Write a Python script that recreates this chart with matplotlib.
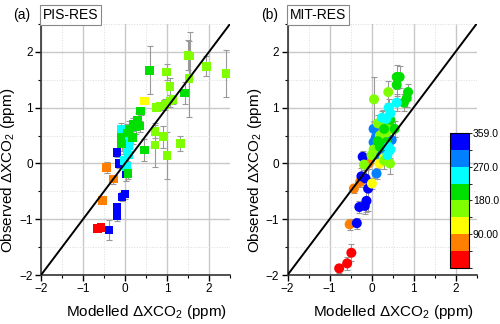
import numpy as np
import matplotlib
matplotlib.use("Agg")
import matplotlib.pyplot as plt
from matplotlib.colors import ListedColormap, BoundaryNorm
from matplotlib.ticker import MultipleLocator

plt.rcParams['font.family'] = ['Liberation Sans', 'DejaVu Sans']
plt.rcParams['mathtext.fontset'] = 'custom'
plt.rcParams['mathtext.rm'] = 'Liberation Sans'
plt.rcParams['mathtext.it'] = 'Liberation Sans'

# wind direction colour classes (deg)
dir_bounds = [0, 45, 90, 135, 180, 225, 270, 315, 359]
dir_colors = ['#ff0000', '#ff8000', '#ffff00', '#80ff00', '#00e000', '#00ffff', '#0080ff', '#0000ff']
cbar_ticks = [90, 180, 270, 359]
cbar_labels = ['90.00', '180.0', '270.0', '359.0']

# panel (a) PIS-RES
a_x = [-0.65, -0.57,
       -0.38, -0.19, -0.19, -0.07, 0.0, -0.19, -0.14, 0.02,
       -0.54, -0.28, -0.44, 0.03,
       -0.09, 0.05, 0.08, 0.10, -0.02, 0.04, 0.12,
       -0.10, -0.08, 0.18, 0.10, 0.20, 0.30, 0.35, 0.37, 0.46, 0.59, 0.07, 1.42, 0.25, 0.05,
       0.46,
       0.71, 0.71, 0.91, 1.00, 1.32, 0.75, 0.83, 0.95, 1.07, 1.14, 0.99, 1.07, 1.52, 1.50, 1.55, 1.94, 2.40]
a_y = [-1.17, -1.15,
       -1.19, -0.93, -0.78, -0.60, -0.55, 0.20, 0.00, -0.19,
       -0.66, -0.28, -0.07, 0.33,
       0.62, 0.25, 0.15, 0.32, 0.05, -0.05, 0.40,
       0.47, 0.35, 0.47, 0.62, 0.70, 0.78, 0.67, 0.94, 0.24, 1.67, -0.18, 1.26, 0.65, 0.55,
       1.12,
       0.33, 0.57, 0.48, 0.14, 0.36, 1.00, 1.03, 1.06, 1.12, 1.15, 1.64, 1.38, 1.52, 1.94, 1.93, 1.74, 1.61]
a_err = [0.03, 0.03,
         0.18, 0.10, 0.08, 0.08, 0.08, 0.08, 0.08, 0.12,
         0.05, 0.08, 0.10, 0.10,
         0.10, 0.15, 0.12, 0.10, 0.12, 0.10, 0.10,
         0.10, 0.12, 0.12, 0.15, 0.12, 0.12, 0.10, 0.08, 0.20, 0.43, 0.10, 0.20, 0.12, 0.15,
         0.05,
         0.40, 0.12, 0.20, 0.42, 0.14, 0.05, 0.08, 0.10, 0.10, 0.08, 0.15, 0.15, 0.68, 0.27, 0.42, 0.18, 0.42]
a_dir = [20] * 2 + [340] * 8 + [70] * 4 + [250] * 7 + [200] * 14 + [110] + [160] * 17

# panel (b) MIT-RES
b_x = [-0.77, -0.58, -0.48,
       -0.52, -0.42, -0.27, -0.07,
       -0.35, -0.29, -0.16, -0.12, -0.08, -0.24, -0.14, -0.21,
       0.12, 0.05, 0.05, 0.10, 0.48, 0.30, 0.15,
       0.01, 0.19, 0.30,
       -0.18, 0.44, 0.06, 0.40, 0.05, 0.15, 0.20, 0.25, 0.35, 0.28, 0.30, 0.00, 0.40,
       0.60, 0.67, 0.60, 0.87, 0.77, 0.84, 0.20, 0.35, 0.45, 0.55, 0.30, 0.15,
       0.60, 0.41, 0.35, 0.45, 0.40, 0.45, 0.38, 0.25]
b_y = [-1.88, -1.79, -1.60,
       -1.09, -0.45, -0.33, 0.00,
       -1.07, -0.78, -0.76, -0.67, -0.45, -0.23, -0.27, 0.12,
       -0.18, 0.38, 0.62, 0.46, 0.42, 0.20, 0.15,
       -0.36, 0.00, 0.10,
       -0.02, 0.00, 1.15, 1.28, 0.25, 0.72, 0.50, 0.35, 0.55, 0.80, 0.05, 0.15, 0.70,
       1.55, 1.55, 1.41, 1.28, 1.09, 1.17, 0.30, 0.38, 0.78, 0.62, 0.62, 0.40,
       1.09, 1.00, 0.80, 0.90, 0.30, 0.25, 0.15, 0.82]
b_err = [0.08, 0.12, 0.15,
         0.10, 0.08, 0.10, 0.10,
         0.10, 0.10, 0.15, 0.20, 0.40, 0.15, 0.15, 0.10,
         0.10, 0.15, 0.15, 0.15, 0.15, 0.15, 0.12,
         0.10, 0.10, 0.10,
         0.10, 0.18, 0.40, 0.20, 0.20, 0.15, 0.20, 0.20, 0.20, 0.15, 0.15, 0.15, 0.15,
         0.22, 0.20, 0.20, 0.15, 0.15, 0.15, 0.15, 0.20, 0.15, 0.15, 0.15, 0.20,
         0.15, 0.15, 0.15, 0.15, 0.20, 0.15, 0.15, 0.12]
b_dir = [20] * 3 + [70] * 4 + [340] * 8 + [290] * 7 + [110] * 3 + [160] * 13 + [200] * 12 + [250] * 8

cmap = ListedColormap(dir_colors)
norm = BoundaryNorm(dir_bounds, cmap.N)

fig = plt.figure(figsize=(5, 3.24), dpi=100)
ax_a = fig.add_axes([0.082, 0.151, 0.378, 0.775])
ax_b = fig.add_axes([0.575, 0.151, 0.378, 0.775])


def style(ax):
    ax.set_xlim(-2, 2.5)
    ax.set_ylim(-2, 2.5)
    ax.xaxis.set_minor_locator(MultipleLocator(0.5))
    ax.yaxis.set_minor_locator(MultipleLocator(0.5))
    ax.set_xticks([-2, -1, 0, 1, 2])
    ax.set_yticks([-2, -1, 0, 1, 2])
    ax.grid(which='major', color='#c8c8c8', lw=1.0, zorder=0)
    ax.grid(which='minor', color='#dcdcdc', lw=0.7, ls=':', zorder=0)
    for s in ['top', 'right']:
        ax.spines[s].set_visible(False)
    for s in ['left', 'bottom']:
        ax.spines[s].set_color('#333333')
        ax.spines[s].set_linewidth(1.2)
    ax.tick_params(which='major', direction='out', length=4, width=1, labelsize=8.5, pad=2)
    ax.tick_params(which='minor', direction='out', length=2, width=0.8)
    ax.set_axisbelow(True)
    ax.set_xlabel('Modelled $\\Delta$XCO$_2$ (ppm)', fontsize=11)
    ax.set_ylabel('Observed $\\Delta$XCO$_2$ (ppm)', fontsize=11)
    ax.xaxis.set_label_coords(0.56, -0.11)
    ax.yaxis.set_label_coords(-0.125, 0.415)
    ax.plot([-2, 2.5], [-2, 2.5], color='black', lw=1.4, zorder=4)


for ax, x, y, e, d, mk, sz in [(ax_a, a_x, a_y, a_err, a_dir, 's', 38),
                               (ax_b, b_x, b_y, b_err, b_dir, 'o', 52)]:
    style(ax)
    ax.errorbar(x, y, yerr=e, fmt='none', ecolor='#999999', elinewidth=0.8,
                capsize=2, capthick=0.8, zorder=2)
    ax.scatter(x, y, c=d, cmap=cmap, norm=norm, marker=mk, s=sz,
               edgecolors='none', zorder=3)

box = dict(boxstyle='square,pad=0.2', fc='white', ec='#888888', lw=0.8)
fig.text(0.026, 0.953, '(a)', fontsize=10, va='center')
fig.text(0.086, 0.953, 'PIS-RES', fontsize=10, va='center', bbox=box)
fig.text(0.522, 0.953, '(b)', fontsize=10, va='center')
fig.text(0.580, 0.953, 'MIT-RES', fontsize=10, va='center', bbox=box)

cax = ax_b.inset_axes([0.859, 0.028, 0.1, 0.538])
sm = plt.cm.ScalarMappable(cmap=cmap, norm=norm)
cb = fig.colorbar(sm, cax=cax, ticks=cbar_ticks)
cb.ax.set_yticklabels(cbar_labels)
cb.ax.tick_params(labelsize=7.5, length=2, width=0.6, pad=1)
cb.outline.set_linewidth(0.8)

fig.savefig('out.png', dpi=100)
